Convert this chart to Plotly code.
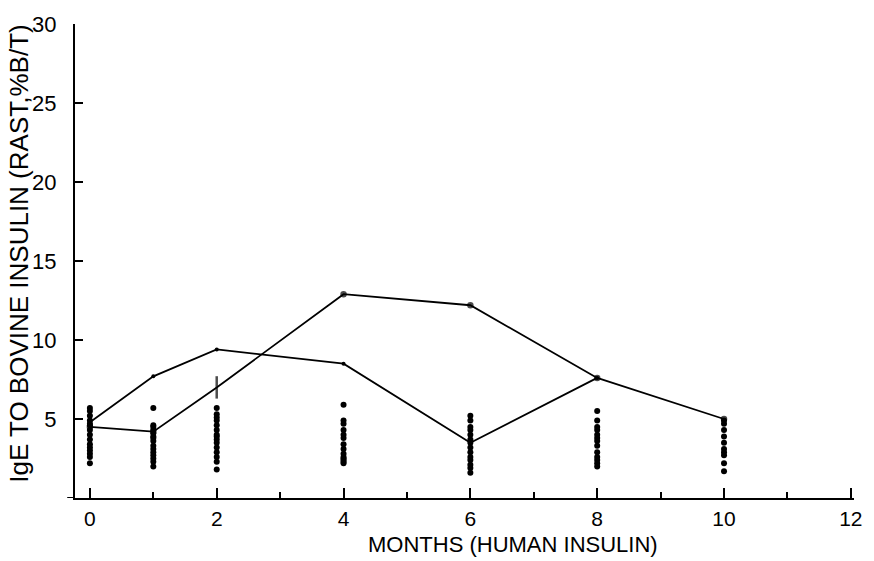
import plotly.graph_objects as go

# Individual IgE values (RAST, %B/T) per visit month
months = [0, 1, 2, 4, 6, 8, 10]
values_by_month = {
    0: [5.7, 5.5, 5.2, 4.9, 4.7, 4.6, 4.3, 4.0, 3.7, 3.4, 3.2, 3.0, 2.8, 2.6, 2.2],
    1: [5.7, 4.6, 4.5, 4.3, 4.1, 3.9, 3.8, 3.6, 3.3, 3.1, 2.9, 2.7, 2.5, 2.3, 2.0],
    2: [5.7, 5.3, 5.1, 4.9, 4.6, 4.3, 4.0, 3.9, 3.7, 3.5, 3.2, 2.9, 2.6, 2.3, 1.8],
    4: [5.9, 4.9, 4.7, 4.3, 4.0, 3.8, 3.4, 3.1, 2.8, 2.6, 2.5, 2.4, 2.3, 2.2],
    6: [5.2, 4.9, 4.5, 4.3, 4.0, 3.7, 3.5, 3.2, 2.9, 2.6, 2.4, 2.1, 1.9, 1.6],
    8: [5.5, 4.9, 4.5, 4.3, 4.0, 3.8, 3.6, 3.3, 2.9, 2.6, 2.4, 2.2, 2.0],
    10: [4.9, 4.7, 4.3, 3.9, 3.5, 3.1, 2.9, 2.7, 2.2, 1.7],
}

# Two patients followed individually
patient_a_months = [0, 1, 2, 4, 6, 8]
patient_a_values = [4.8, 7.7, 9.4, 8.5, 3.5, 7.6]
patient_b_months = [0, 1, 2, 4, 6, 8, 10]
patient_b_values = [4.5, 4.2, 7.0, 12.9, 12.2, 7.6, 5.0]

x_ticks = [0, 2, 4, 6, 8, 10, 12]
y_ticks = [5, 10, 15, 20, 25, 30]

FONT = "Liberation Sans, Arial, sans-serif"

fig = go.Figure()

dot_x, dot_y = [], []
for m in months:
    for v in values_by_month[m]:
        dot_x.append(m)
        dot_y.append(v)

fig.add_trace(go.Scatter(
    x=dot_x, y=dot_y, mode="markers",
    marker=dict(size=6, color="black"),
    showlegend=False, hoverinfo="skip",
))

fig.add_trace(go.Scatter(
    x=patient_a_months, y=patient_a_values, mode="lines+markers",
    line=dict(color="black", width=1.8),
    marker=dict(size=4, color="black"),
    showlegend=False,
))

# the month-2 visit of the second patient is drawn with a short vertical bar
b_symbols = ["circle"] * len(patient_b_months)
b_sizes = [4] * len(patient_b_months)
b_symbols[2] = "line-ns-open"
b_sizes[2] = 16

fig.add_trace(go.Scatter(
    x=patient_b_months, y=patient_b_values, mode="lines+markers",
    line=dict(color="black", width=1.8),
    marker=dict(size=b_sizes, symbol=b_symbols, color="black",
                line=dict(color="black", width=2.5)),
    showlegend=False,
))

fig.update_layout(
    width=874, height=561,
    margin=dict(l=75, r=14, t=20, b=63),
    paper_bgcolor="white", plot_bgcolor="white",
    font=dict(family=FONT, color="black", size=21),
    xaxis=dict(
        range=[-0.235, 12.05], showgrid=False, zeroline=False,
        showline=True, linecolor="black", linewidth=2,
        tickvals=x_ticks, ticks="inside", ticklen=10, tickwidth=1.8,
        tickcolor="black", ticklabelstandoff=1,
        tickfont=dict(size=21, family=FONT),
        minor=dict(dtick=1, tick0=0, ticks="inside", ticklen=6,
                   tickwidth=1.5, tickcolor="black"),
    ),
    yaxis=dict(
        range=[0, 30], showgrid=False, zeroline=False,
        showline=True, linecolor="black", linewidth=2,
        tickvals=y_ticks, ticks="inside", ticklen=8, tickwidth=1.8,
        tickcolor="black", ticklabelstandoff=12,
        tickfont=dict(size=22, family=FONT),
    ),
    shapes=[
        # short overhang of the x axis to the left of the y axis
        dict(type="line", xref="paper", yref="y", x0=-0.01, x1=0,
             y0=0, y1=0, line=dict(color="black", width=2)),
    ],
    annotations=[
        dict(text="MONTHS (HUMAN INSULIN)", xref="paper", yref="paper",
             x=0.562, y=-0.128, xanchor="center", yanchor="bottom",
             showarrow=False, font=dict(size=22, family=FONT)),
        dict(text="IgE TO BOVINE INSULIN (RAST,%B/T)", xref="paper", yref="paper",
             x=-0.072, y=0.515, xanchor="center", yanchor="middle",
             textangle=-90, showarrow=False, font=dict(size=26, family=FONT)),
    ],
)

fig.write_html("out.html")
